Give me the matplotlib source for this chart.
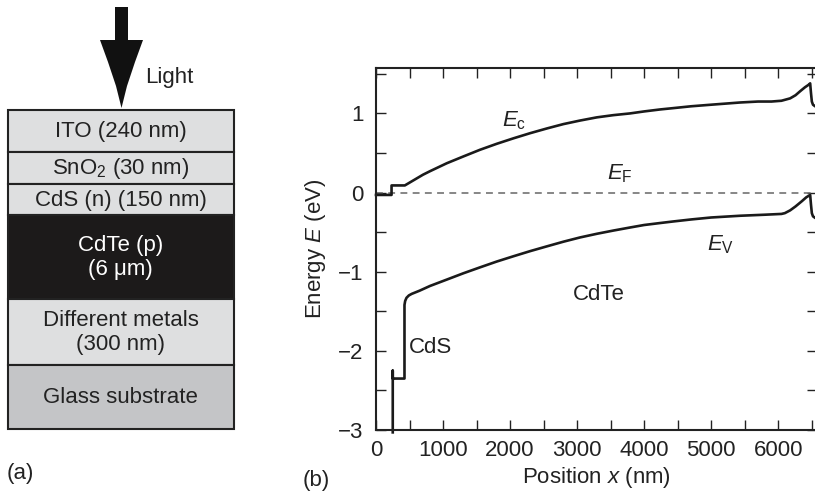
import numpy as np
import matplotlib.pyplot as plt
from matplotlib.patches import Rectangle, Polygon
from matplotlib.ticker import MultipleLocator, FuncFormatter

plt.rcParams['font.family'] = ['Liberation Sans', 'DejaVu Sans']
plt.rcParams['mathtext.fontset'] = 'custom'
plt.rcParams['mathtext.rm'] = 'Liberation Sans'
plt.rcParams['mathtext.it'] = 'Liberation Sans:italic'
plt.rcParams['axes.unicode_minus'] = True

FS = 16
TXT = '#222222'

# (a) layer stack
layer_labels = ['ITO (240 nm)', 'SnO$_2$ (30 nm)', 'CdS (n) (150 nm)',
                'CdTe (p)\n(6 \u03bcm)', 'Different metals\n(300 nm)', 'Glass substrate']
layer_colors = ['#dedfe0', '#dedfe0', '#dedfe0', '#1c1a1a', '#dedfe0', '#c4c5c7']
layer_text_colors = [TXT, TXT, TXT, 'white', TXT, TXT]

# (b) band diagram, position in nm, energy in eV
ec_x = [0, 232, 232, 430, 600, 700, 806, 1055, 1303, 1550, 1801, 2050, 2299, 2550,
        2796, 3045, 3294, 3540, 3791, 4000, 4239, 4437, 4700, 5000, 5433, 5700, 5900,
        6050, 6179, 6260, 6328, 6400, 6452, 6478, 6490, 6503, 6520, 6552, 6580]
ec_e = [-0.03, -0.03, 0.09, 0.09, 0.175, 0.225, 0.27, 0.37, 0.456, 0.54, 0.616, 0.685,
        0.75, 0.81, 0.865, 0.91, 0.95, 0.978, 1.00, 1.025, 1.05, 1.067, 1.09, 1.11,
        1.138, 1.15, 1.15, 1.16, 1.19, 1.23, 1.28, 1.33, 1.36, 1.38, 1.26, 1.15, 1.11,
        1.09, 1.08]
ev_x = [250, 250, 250, 425, 425, 435, 455, 490, 533, 650, 806, 1055, 1303, 1552, 1800,
        2050, 2300, 2548, 2800, 3045, 3300, 3542, 3800, 4000, 4239, 4437, 4700, 5000,
        5433, 5800, 6050, 6100, 6179, 6260, 6353, 6420, 6478, 6490, 6503, 6520, 6552, 6580]
ev_e = [-3.03, -2.25, -2.35, -2.35, -1.42, -1.37, -1.33, -1.30, -1.28, -1.24, -1.18,
        -1.10, -1.02, -0.945, -0.872, -0.805, -0.74, -0.68, -0.62, -0.567, -0.52, -0.48,
        -0.44, -0.41, -0.385, -0.365, -0.34, -0.315, -0.293, -0.28, -0.27, -0.26, -0.225,
        -0.175, -0.11, -0.06, -0.03, -0.15, -0.26, -0.30, -0.32, -0.33]
ef_x = [0, 6580]
ef_e = [0, 0]

fig = plt.figure(figsize=(8.15, 4.94), dpi=100)

# overlay in pixel coordinates for panel (a)
ax0 = fig.add_axes([0, 0, 1, 1], zorder=0)
ax0.set_xlim(0, 815)
ax0.set_ylim(494, 0)
ax0.axis('off')

bounds = [110, 151.5, 184, 214.5, 298.5, 364.5, 429]
for i, lab in enumerate(layer_labels):
    y0, y1 = bounds[i], bounds[i + 1]
    ax0.add_patch(Rectangle((7.5, y0), 226, y1 - y0, facecolor=layer_colors[i],
                            edgecolor=TXT, lw=1.5))
    ax0.text(120.5, (y0 + y1) / 2 + 1, lab, ha='center', va='center', fontsize=FS,
             color=layer_text_colors[i], linespacing=1.2)

arrow = [(115, 7), (128, 7), (128, 40), (143, 40), (135, 62), (127, 86), (121.5, 108),
         (116, 86), (108, 62), (100, 40), (115, 40)]
ax0.add_patch(Polygon(arrow, closed=True, facecolor='#111111', edgecolor='none'))
ax0.text(145, 78, 'Light', ha='left', va='center', fontsize=FS, color=TXT)
ax0.text(7, 473, '(a)', ha='left', va='center', fontsize=FS, color=TXT)
ax0.text(303, 480, '(b)', ha='left', va='center', fontsize=FS, color=TXT)

# panel (b)
ax = fig.add_axes([376 / 815, 1 - 430 / 494, 441 / 815, (430 - 68.3) / 494], zorder=1)
ax.patch.set_alpha(0)
ax.plot(ef_x, ef_e, color='#666666', lw=1.1, ls=(0, (4.5, 3.5)))
ax.plot(ec_x, ec_e, color='#1a1a1a', lw=1.9, clip_on=False, solid_joinstyle='round')
ax.plot(ev_x, ev_e, color='#1a1a1a', lw=1.9, clip_on=False, solid_joinstyle='round')
ax.set_xlim(0, 6580)
ax.set_ylim(-3, 1.57)

ax.xaxis.set_major_locator(MultipleLocator(500))
ax.yaxis.set_major_locator(MultipleLocator(0.5))
ax.xaxis.set_major_formatter(FuncFormatter(lambda v, p: f'{v:.0f}' if v % 1000 == 0 else ''))
ax.yaxis.set_major_formatter(FuncFormatter(
    lambda v, p: (f'{v:.0f}'.replace('-', '\u2212')) if abs(v - round(v)) < 1e-6 else ''))
ax.tick_params(direction='in', length=7, width=1, top=True, right=True,
               labelsize=FS, colors=TXT)
ax.tick_params(axis='x', pad=7)
ax.tick_params(axis='y', pad=9)
for s in ax.spines.values():
    s.set_linewidth(1.5)
    s.set_color(TXT)

ax.set_xlabel('Position $x$ (nm)', fontsize=FS, color=TXT, labelpad=3)
ax.set_ylabel('Energy $E$ (eV)', fontsize=FS, color=TXT, labelpad=7)

ax.text(2060, 0.91, r'$E_\mathrm{c}$', ha='center', va='center', fontsize=FS, color=TXT)
ax.text(3640, 0.235, r'$E_\mathrm{F}$', ha='center', va='center', fontsize=FS, color=TXT)
ax.text(5134, -0.655, r'$E_\mathrm{V}$', ha='center', va='center', fontsize=FS, color=TXT)
ax.text(3328, -1.29, 'CdTe', ha='center', va='center', fontsize=FS, color=TXT)
ax.text(806, -1.96, 'CdS', ha='center', va='center', fontsize=FS, color=TXT)

fig.savefig('out.png', dpi=100)
